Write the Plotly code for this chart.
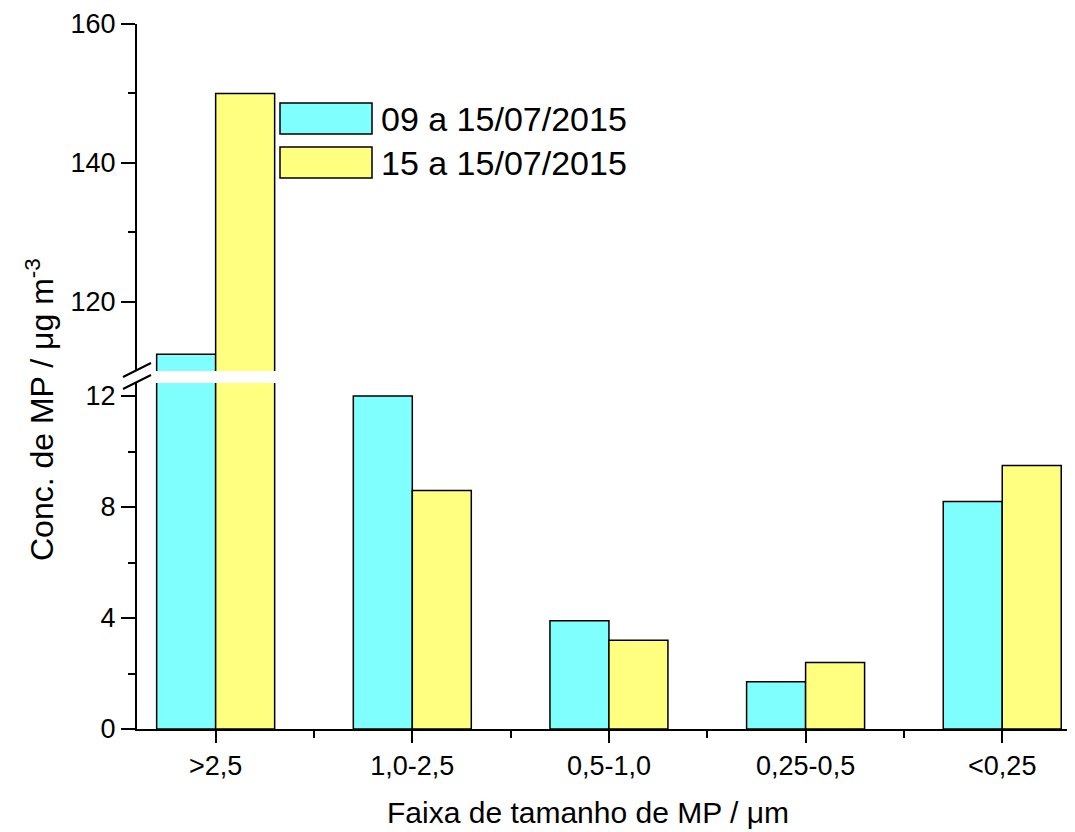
import plotly.graph_objects as go

categories = [">2,5", "1,0-2,5", "0,5-1,0", "0,25-0,5", "<0,25"]
series_names = ["09 a 15/07/2015", "15 a 15/07/2015"]
series1 = [112.4, 12.0, 3.9, 1.7, 8.2]
series2 = [150.0, 8.6, 3.2, 2.4, 9.5]
colors = ["#80FFFF", "#FFFF80"]

OFF = 8  # browser body margin
W, H = 1075 - OFF, 832 - OFF
# reference pixel positions
REF_L, REF_T, REF_B = 137, 24, 729
L = REF_L - OFF
T = REF_T - OFF
B = H - (REF_B - OFF)
R = 0
ph = H - T - B
pw = W - L - R

def py(p):
    return (REF_B - p) / ph

def px(p):
    return (p - REF_L) / pw

xs = list(range(len(categories)))
fig = go.Figure()
for yax in ["y", "y2"]:
    for name, vals, col in zip(series_names, [series1, series2], colors):
        fig.add_trace(go.Bar(x=xs, y=vals, name=name, yaxis=yax,
                             marker=dict(color=col, line=dict(color="black", width=1.5)),
                             showlegend=False))

font = "Liberation Sans, Arial, sans-serif"
lower_top = py(383)
upper_bot = py(371)
TF = 27

fig.update_layout(
    width=W, height=H,
    margin=dict(l=L, r=R, t=T, b=B),
    paper_bgcolor="white", plot_bgcolor="white",
    barmode="group", bargap=0.4, bargroupgap=0,
    font=dict(family=font, color="black", size=TF),
    xaxis=dict(range=[-0.4, 4.37], tickmode="array", tickvals=xs, ticktext=categories,
               showline=True, linecolor="black", linewidth=2, ticks="outside",
               ticklen=12, tickwidth=2, tickcolor="black", showgrid=False, zeroline=False,
               tickfont=dict(size=TF),
               minor=dict(tickmode="linear", tick0=0.5, dtick=1, ticks="outside",
                          ticklen=7, tickwidth=2, tickcolor="black")),
    yaxis=dict(domain=[0, lower_top], range=[0, 12.47], tickmode="array",
               tickvals=[0, 4, 8, 12], showline=True, linecolor="black", linewidth=2,
               ticks="outside", ticklen=14, tickwidth=2, tickcolor="black",
               showgrid=False, zeroline=False, tickfont=dict(size=TF),
               minor=dict(tickmode="array", tickvals=[2, 6, 10], ticks="outside",
                          ticklen=7, tickwidth=2, tickcolor="black")),
    yaxis2=dict(domain=[upper_bot, 1], range=[110, 160], anchor="x", tickmode="array",
                tickvals=[120, 140, 160], showline=True, linecolor="black", linewidth=2,
                ticks="outside", ticklen=14, tickwidth=2, tickcolor="black",
                showgrid=False, zeroline=False, tickfont=dict(size=TF),
                minor=dict(tickmode="array", tickvals=[130, 150], ticks="outside",
                           ticklen=7, tickwidth=2, tickcolor="black")),
)

shapes = []
# axis break marks
for yc in [370, 382]:
    shapes.append(dict(type="line", xref="paper", yref="paper",
                       x0=px(123), y0=py(yc + 7), x1=px(151), y1=py(yc - 7),
                       line=dict(color="black", width=2)))
# legend boxes
for i, (col, name) in enumerate(zip(colors, series_names)):
    top = 103 + i * 44
    shapes.append(dict(type="rect", xref="paper", yref="paper",
                       x0=px(280), x1=px(372), y0=py(top), y1=py(top + 31),
                       fillcolor=col, line=dict(color="black", width=1.5)))
    fig.add_annotation(xref="paper", yref="paper", x=px(379), y=py(top + 16),
                       text=name, showarrow=False, xanchor="left", yanchor="middle",
                       font=dict(size=34))
fig.update_layout(shapes=shapes)

fig.add_annotation(xref="paper", yref="paper", x=px(588), y=py(812),
                   text="Faixa de tamanho de MP / μm", showarrow=False,
                   xanchor="center", yanchor="middle", font=dict(size=30))
fig.add_annotation(xref="paper", yref="paper", x=px(40), y=py(410),
                   text="Conc. de MP / μg m<sup>-3</sup>", showarrow=False, textangle=-90,
                   xanchor="center", yanchor="middle", font=dict(size=32))

fig.write_html("out.html")
